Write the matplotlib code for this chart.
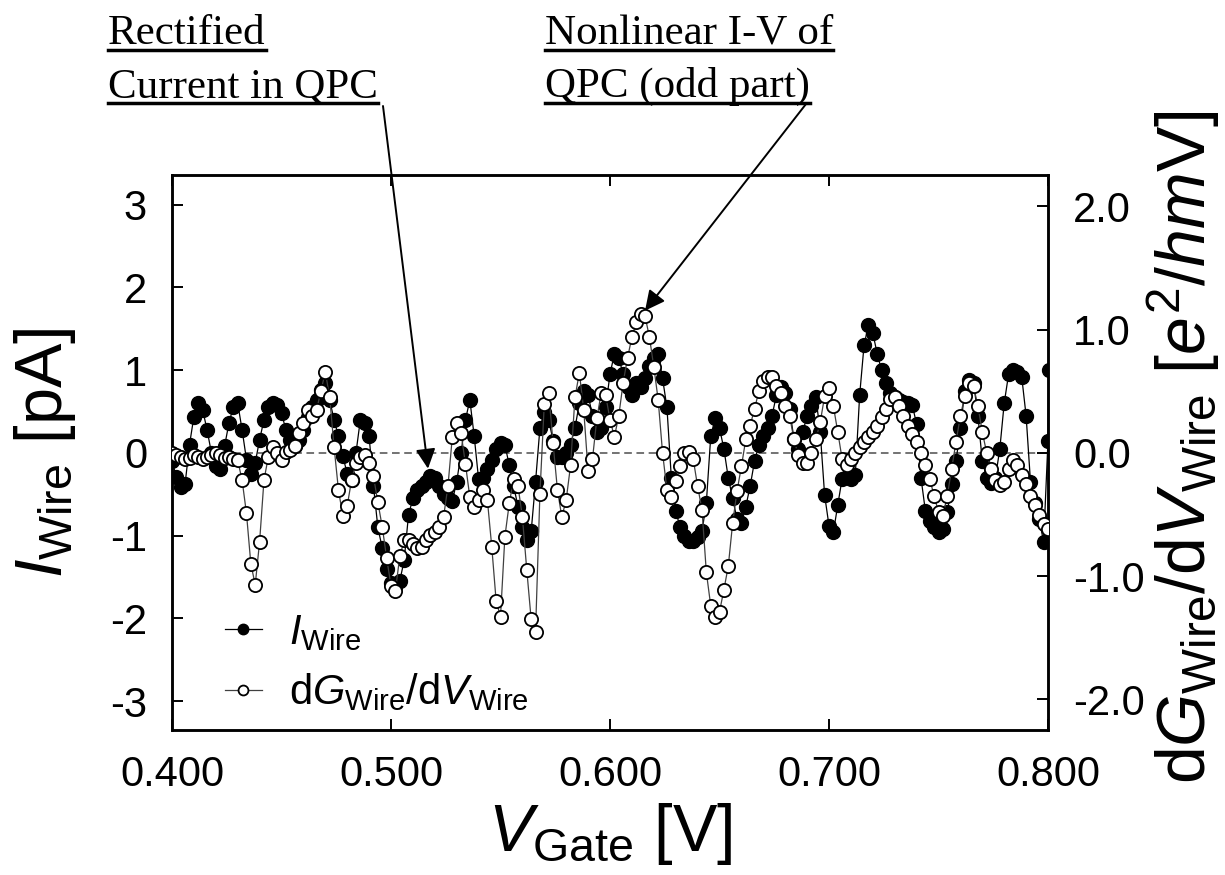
import numpy as np
import matplotlib
matplotlib.use("Agg")
import matplotlib.pyplot as plt
from matplotlib.lines import Line2D

plt.rcParams['font.family'] = ['Liberation Sans', 'DejaVu Sans']
plt.rcParams['mathtext.fontset'] = 'custom'
plt.rcParams['mathtext.rm'] = 'Liberation Sans'
plt.rcParams['mathtext.it'] = 'Liberation Sans:italic'
plt.rcParams['mathtext.bf'] = 'Liberation Sans:bold'
plt.rcParams['axes.unicode_minus'] = False

# gate voltage sweep, 2 mV step
v_gate = np.linspace(0.400, 0.800, 201)

# rectified current I_Wire [pA] (left axis)
i_wire = [
    -0.10, -0.29, -0.41, -0.37, 0.10, 0.44, 0.60, 0.52, 0.28, 0.00,
    -0.16, -0.20, 0.08, 0.36, 0.56, 0.60, 0.28, -0.08, -0.25, -0.12,
    0.16, 0.40, 0.56, 0.60, 0.58, 0.48, 0.28, 0.16, 0.08, 0.16,
    0.28, 0.44, 0.56, 0.64, 0.76, 0.84, 0.64, 0.40, 0.20, -0.04,
    -0.25, -0.33, 0.00, 0.40, 0.36, 0.20, -0.40, -0.90, -1.15, -1.40,
    -1.57, -1.62, -1.55, -1.30, -0.75, -0.55, -0.45, -0.40, -0.35, -0.28,
    -0.30, -0.40, -0.50, -0.55, -0.58, -0.35, 0.00, 0.40, 0.64, 0.20,
    -0.32, -0.30, -0.20, -0.08, 0.05, 0.12, 0.10, -0.15, -0.40, -0.65,
    -0.90, -1.05, -0.95, -0.35, 0.30, 0.50, 0.40, 0.15, -0.05, -0.05,
    0.00, 0.10, 0.30, 0.60, 0.75, 0.70, 0.45, 0.25, 0.30, 0.55,
    0.95, 1.20, 1.15, 0.95, 0.80, 0.70, 0.85, 0.80, 0.90, 1.05,
    1.15, 1.20, 0.90, 0.55, -0.30, -0.70, -0.90, -1.00, -1.07, -1.07,
    -1.02, -0.95, -0.60, 0.20, 0.42, 0.30, 0.05, -0.30, -0.55, -0.80,
    -0.85, -0.65, -0.40, -0.10, 0.10, 0.20, 0.30, 0.45, 0.70, 0.80,
    0.73, 0.53, 0.17, 0.05, 0.25, 0.45, 0.57, 0.67, 0.25, -0.51,
    -0.88, -0.96, -0.63, -0.31, -0.29, -0.31, -0.27, 0.70, 1.30, 1.55,
    1.45, 1.20, 1.00, 0.85, 0.73, 0.68, 0.64, 0.62, 0.60, 0.58,
    0.35, -0.30, -0.70, -0.82, -0.90, -0.96, -0.92, -0.72, -0.38, -0.10,
    0.30, 0.75, 0.88, 0.85, 0.45, -0.10, -0.30, -0.36, -0.30, 0.05,
    0.60, 0.95, 1.00, 0.98, 0.92, 0.45, -0.35, -0.60, -0.80, -1.08,
    0.15,
]

# dG_Wire/dV_Wire [e^2/hmV] (right axis)
dg_dv = [
    0.00, -0.02, -0.03, -0.05, -0.04, -0.02, -0.03, -0.05, -0.03, -0.02,
    0.00, -0.02, -0.04, -0.03, -0.05, -0.06, -0.22, -0.49, -0.90, -1.07,
    -0.72, -0.22, -0.03, 0.05, 0.00, -0.06, 0.01, 0.02, 0.06, 0.16,
    0.24, 0.35, 0.30, 0.35, 0.50, 0.66, 0.45, 0.05, -0.30, -0.51,
    -0.43, -0.22, -0.08, -0.03, -0.02, -0.08, -0.19, -0.40, -0.60, -0.85,
    -1.08, -1.12, -0.84, -0.71, -0.71, -0.74, -0.77, -0.76, -0.71, -0.67,
    -0.64, -0.60, -0.52, -0.27, 0.13, 0.24, 0.16, -0.09, -0.36, -0.44,
    -0.38, -0.30, -0.38, -0.76, -1.20, -1.33, -0.68, -0.41, -0.21, -0.27,
    -0.52, -0.95, -1.35, -1.45, -0.33, 0.40, 0.49, 0.08, -0.30, -0.52,
    -0.38, -0.10, 0.45, 0.65, 0.35, -0.15, -0.05, 0.28, 0.49, 0.47,
    0.27, 0.13, 0.30, 0.57, 0.77, 0.94, 1.06, 1.13, 1.11, 0.94,
    0.70, 0.43, 0.00, -0.30, -0.36, -0.23, -0.11, 0.00, 0.01, -0.05,
    -0.27, -0.46, -0.97, -1.24, -1.33, -1.29, -1.11, -0.92, -0.57, -0.31,
    -0.11, 0.11, 0.22, 0.36, 0.50, 0.58, 0.62, 0.62, 0.54, 0.49,
    0.38, 0.30, 0.11, -0.02, -0.08, -0.08, 0.00, 0.11, 0.25, 0.46,
    0.53, 0.38, 0.17, -0.05, -0.10, -0.05, 0.00, 0.05, 0.09, 0.13,
    0.17, 0.22, 0.29, 0.36, 0.44, 0.45, 0.38, 0.30, 0.22, 0.15,
    0.09, 0.00, -0.10, -0.21, -0.35, -0.48, -0.51, -0.35, -0.13, 0.09,
    0.30, 0.46, 0.57, 0.54, 0.38, 0.17, 0.00, -0.13, -0.22, -0.26,
    -0.24, -0.13, -0.06, -0.10, -0.18, -0.25, -0.35, -0.42, -0.50, -0.58,
    -0.62,
]

# last current point lies on the frame edge
v_edge = [0.8004]
i_edge = [1.00]

x_ticks = [0.400, 0.500, 0.600, 0.700, 0.800]
x_tick_labels = ['0.400', '0.500', '0.600', '0.700', '0.800']
left_ticks = [-3, -2, -1, 0, 1, 2, 3]
left_tick_labels = ['-3', '-2', '-1', '0', '1', '2', '3']
right_ticks = [-2, -1, 0, 1, 2]
right_tick_labels = ['-2.0', '-1.0', '0.0', '1.0', '2.0']

left_lim = (-3.35, 3.36)
axis_ratio = 1.49  # pA per e^2/hmV, both axes share the zero line

fig = plt.figure(figsize=(12.25, 8.75), dpi=100)
ax = fig.add_axes([172 / 1225, 145 / 875, 876 / 1225, 555 / 875])
ax2 = ax.twinx()

ax.axhline(0, color='0.3', lw=1.1, ls=(0, (5, 3)), zorder=1)

v_i = np.concatenate([v_gate, v_edge])
i_all = np.concatenate([i_wire, i_edge])
line_i, = ax.plot(v_i, i_all, color='black', lw=0.9, marker='o', ms=10,
                  mfc='black', mec='black', mew=1.0, zorder=2)
line_g, = ax2.plot(v_gate, dg_dv, color='0.25', lw=0.9, marker='o', ms=9.5,
                   mfc='white', mec='black', mew=1.3, zorder=3)

ax.set_xlim(0.4, 0.8)
ax.set_ylim(*left_lim)
ax2.set_ylim(left_lim[0] / axis_ratio, left_lim[1] / axis_ratio)

ax.set_xticks(x_ticks)
ax.set_xticklabels(x_tick_labels)
ax.set_yticks(left_ticks)
ax.set_yticklabels(left_tick_labels)
ax2.set_yticks(right_ticks)
ax2.set_yticklabels(right_tick_labels)

ax.tick_params(axis='both', direction='in', length=8, width=1.4, labelsize=30,
               pad=18, top=True, right=False)
ax2.tick_params(axis='y', direction='in', length=8, width=1.4, labelsize=30, pad=18)
for a in (ax, ax2):
    for s in a.spines.values():
        s.set_linewidth(1.8)

ax.set_xlabel(r'$V_{\rm Gate}$ [V]', fontsize=48, labelpad=4)
ax.set_ylabel(r'$I_{\rm Wire}$ [pA]', fontsize=48)
ax.yaxis.set_label_coords(-0.107, 0.5)
ax2.set_ylabel(r'd$G_{\rm Wire}$/d$V_{\rm Wire}$ [$e^2/hm$V]', fontsize=49)
ax2.yaxis.set_label_coords(1.111, 0.51)

ax2.legend([line_i, line_g],
           [r'$I_{\rm Wire}$', r'd$G_{\rm Wire}$/d$V_{\rm Wire}$'],
           loc='lower left', bbox_to_anchor=(0.06, 0.03), frameon=False,
           fontsize=30, handlelength=0.9, handletextpad=0.65,
           labelspacing=0.45, borderpad=0, borderaxespad=0, markerscale=0.75)

# annotations above the frame
W, H = 1225, 875
notes = [
    ('Rectified', 108, 44),
    ('Current in QPC', 108, 97),
    ('Nonlinear I-V of', 545, 44),
    ('QPC (odd part)', 545, 97),
]
texts = []
for s, px, py in notes:
    t = fig.text(px / W, 1 - py / H, s, fontsize=31, family='Liberation Serif',
                 ha='left', va='baseline')
    texts.append((t, py))

arrow_style = dict(arrowstyle='-|>,head_length=0.6,head_width=0.3',
                   mutation_scale=20, lw=1.4, color='black', shrinkA=0, shrinkB=0)
ax2.annotate('', xy=(0.5169, -0.19), xycoords=ax.transData,
             xytext=(383 / W, 1 - 106 / H), textcoords='figure fraction',
             arrowprops=arrow_style, annotation_clip=False)
ax2.annotate('', xy=(0.6160, 1.72), xycoords=ax.transData,
             xytext=(806 / W, 1 - 104 / H), textcoords='figure fraction',
             arrowprops=arrow_style, annotation_clip=False)

fig.canvas.draw()
for t, py in texts:
    bb = t.get_window_extent()
    yl = 1 - (py + 6) / H
    fig.add_artist(Line2D([bb.x0 / W, bb.x1 / W], [yl, yl], transform=fig.transFigure,
                          color='black', lw=2.5))

fig.savefig('out.png', dpi=100)
